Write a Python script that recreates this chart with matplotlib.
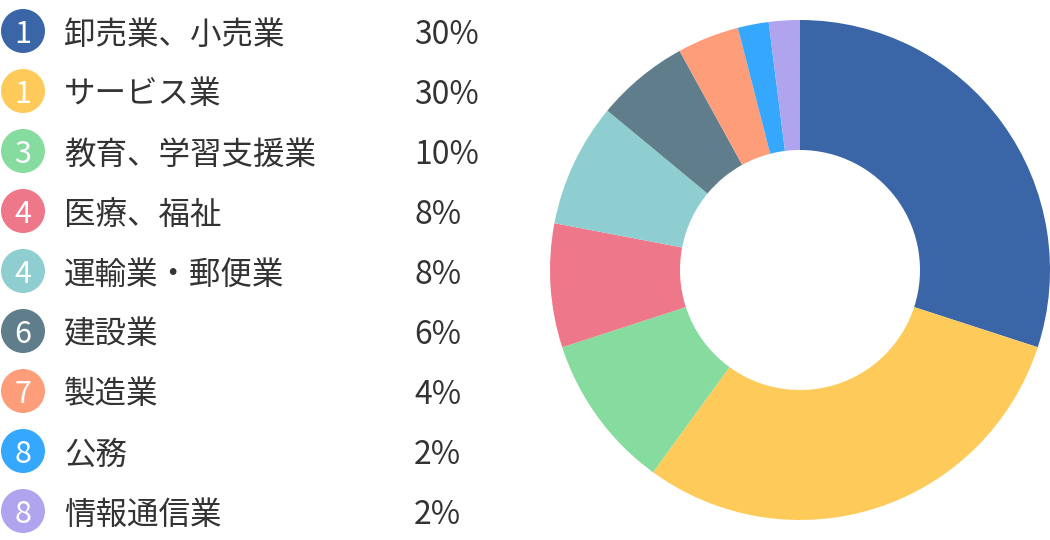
import matplotlib
matplotlib.use("Agg")
import matplotlib.pyplot as plt
from matplotlib.patches import Circle

plt.rcParams["font.family"] = ["Noto Sans CJK JP", "DejaVu Sans"]

# data
categories = ["卸売業、小売業", "サービス業", "教育、学習支援業", "医療、福祉", "運輸業・郵便業",
              "建設業", "製造業", "公務", "情報通信業"]
ranks = ["1", "1", "3", "4", "4", "6", "7", "8", "8"]
shares = [30, 30, 10, 8, 8, 6, 4, 2, 2]
colors = ["#3A66A8", "#FECB5B", "#86DB9E", "#EE7789", "#8ECED0",
          "#607D8B", "#FE9D7A", "#35A8FE", "#B0A4EE"]

W, H = 1050, 540
fig = plt.figure(figsize=(W / 100, H / 100), dpi=100)

# legend drawn in pixel coordinates
ax = fig.add_axes([0, 0, 1, 1])
ax.set_xlim(0, W)
ax.set_ylim(H, 0)
ax.axis("off")

row_h = 60
y0 = 31
for i, (cat, rk, val, col) in enumerate(zip(categories, ranks, shares, colors)):
    y = y0 + i * row_h
    ax.add_patch(Circle((23, y), 22, color=col, lw=0))
    ax.text(23, y, rk, color="white", fontsize=22, ha="center", va="center_baseline")
    ax.text(64, y, cat, color="#333333", fontsize=22.7, ha="left", va="center_baseline")
    ax.text(414, y, f"{val}%", color="#333333", fontsize=23, ha="left", va="center_baseline")

# donut
cx, cy, r = 800, 270, 250
ax2 = fig.add_axes([(cx - r) / W, (H - cy - r) / H, 2 * r / W, 2 * r / H])
ax2.pie(shares, colors=colors, startangle=90, counterclock=False, radius=1.0,
        wedgeprops=dict(width=0.52, linewidth=0))
ax2.set_xlim(-1, 1)
ax2.set_ylim(-1, 1)
ax2.set_aspect("equal")
ax2.axis("off")

fig.savefig("out.png", dpi=100, facecolor="white")
